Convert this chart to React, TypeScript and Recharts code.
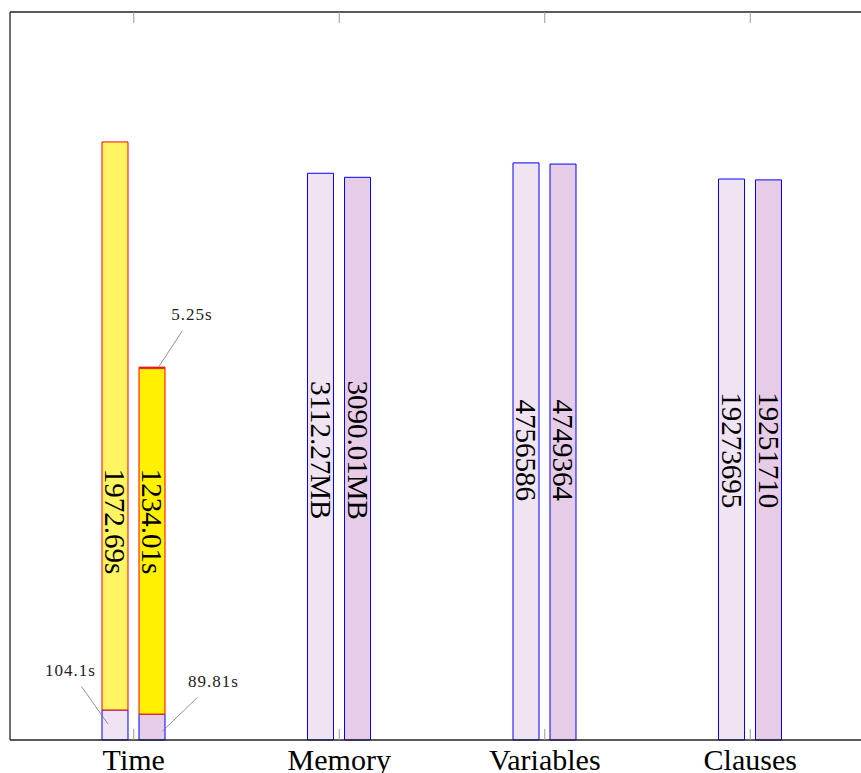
import React from "react";
import { BarChart, Bar, XAxis, YAxis, LabelList } from "recharts";

const categories = ["Time", "Memory", "Variables", "Clauses"];

// bar heights in plot units (the Time scale, seconds)
const runABase = [104.1, 1968, 2004, 1948];
const runATime = [1972.69, 0, 0, 0];
const runBBase = [89.81, 1954, 2000, 1945];
const runBTime = [1200, 0, 0, 0];
const runBExtra = [5.25, 0, 0, 0];

const labelsA = ["1972.69s", "3112.27MB", "4756586", "19273695"];
const labelsB = ["1234.01s", "3090.01MB", "4749364", "19251710"];
const pinABase = "104.1s";
const pinBBase = "89.81s";
const pinBExtra = "5.25s";

const Y_MAX = 2528;

const data = categories.map((name, i) => ({
  name,
  aBase: runABase[i],
  aTime: runATime[i] || null,
  bBase: runBBase[i],
  bTime: runBTime[i] || null,
  bExtra: runBExtra[i] || null,
}));

const PLOT_H = 728;
const SERIF = "'Liberation Serif', 'Times New Roman', serif";
const FRAME = { stroke: "#222", strokeWidth: 1.3 };

const BottomTick = (props: any) => {
  const { x, y, payload } = props;
  return (
    <g>
      <line x1={x} x2={x} y1={y} y2={y - 11} stroke="#999" strokeWidth={1} />
      <text x={x} y={y + 30} textAnchor="middle" fontFamily={SERIF} fontSize={30} fill="#000">
        {payload.value}
      </text>
    </g>
  );
};

const TopTick = (props: any) => {
  const { x, y } = props;
  return <line x1={x} x2={x} y1={y} y2={y + 11} stroke="#999" strokeWidth={1} />;
};

// vertical value labels, placed at a fixed share of the plot height
const makeValueLabel = (labels: string[]) => (props: any) => {
  const { x, y, width, height, index } = props;
  const bottom = y + height;
  const cx = x + width / 2;
  const frac = index === 0 ? 0.3 : 0.398;
  const cy = bottom - frac * PLOT_H;
  return (
    <text
      key={`v-${index}`}
      x={cx}
      y={cy}
      transform={`rotate(90, ${cx}, ${cy})`}
      textAnchor="middle"
      dominantBaseline="central"
      fontFamily={SERIF}
      fontSize={29}
      fill="#000"
    >
      {labels[index]}
    </text>
  );
};

// small pin annotation: line from segment to text
const makePin = (text: string, from: number[], to: number[], at: number[]) => (props: any) => {
  const { x, y, width, height, index } = props;
  if (index !== 0) return null;
  const cx = x + width / 2;
  const cy = y + height / 2;
  return (
    <g>
      <line
        x1={cx + from[0]}
        y1={cy + from[1]}
        x2={cx + to[0]}
        y2={cy + to[1]}
        stroke="#777"
        strokeWidth={0.8}
      />
      <text
        x={cx + at[0]}
        y={cy + at[1]}
        textAnchor="middle"
        fontFamily={SERIF}
        fontSize={17}
        letterSpacing={1}
        fill="#222"
      >
        {text}
      </text>
    </g>
  );
};

export default function App() {
  return (
    // clip to the window so the frame can run off the right edge like the original
    <div style={{ position: "absolute", left: 0, top: 0, width: 861, height: 773, overflow: "hidden" }}>
      <div style={{ position: "absolute", left: 8, top: 8 }}>
        <BarChart
          width={870}
          height={765}
          data={data}
          margin={{ top: 3, right: 4, bottom: 3, left: 1 }}
          barSize={26}
          barGap={11}
        >
          <XAxis
            dataKey="name"
            height={30}
            padding={{ left: 21, right: 21 }}
            axisLine={FRAME}
            tickLine={false}
            tickSize={0}
            tickMargin={0}
            tick={<BottomTick />}
            interval={0}
          />
          <XAxis
            xAxisId="top"
            orientation="top"
            dataKey="name"
            height={1}
            padding={{ left: 21, right: 21 }}
            axisLine={FRAME}
            tickLine={false}
            tickSize={0}
            tickMargin={0}
            tick={<TopTick />}
            interval={0}
          />
          <YAxis width={1} domain={[0, Y_MAX]} tick={false} tickLine={false} axisLine={FRAME} />
          <Bar dataKey="aBase" stackId="a" fill="#f0e4f2" stroke="#0000ff" strokeWidth={1} isAnimationActive={false}>
            <LabelList dataKey="aBase" content={makeValueLabel(labelsA)} />
            <LabelList dataKey="aBase" content={makePin(pinABase, [-7, -1], [-33.5, -38.5], [-44.5, -49])} />
          </Bar>
          <Bar dataKey="aTime" stackId="a" fill="#fff563" stroke="#ff0000" strokeWidth={1} isAnimationActive={false} />
          <Bar dataKey="bBase" stackId="b" fill="#e6cce6" stroke="#0000ff" strokeWidth={1} isAnimationActive={false}>
            <LabelList dataKey="bBase" content={makeValueLabel(labelsB)} />
            <LabelList dataKey="bBase" content={makePin(pinBBase, [10.5, 4], [45.5, -29.7], [61.5, -39.7])} />
          </Bar>
          <Bar dataKey="bTime" stackId="b" fill="#fff100" stroke="#ff0000" strokeWidth={1} isAnimationActive={false} />
          <Bar dataKey="bExtra" stackId="b" fill="#cc0000" stroke="#ee3030" strokeWidth={1} isAnimationActive={false}>
            <LabelList dataKey="bExtra" content={makePin(pinBExtra, [7, -1.5], [30.5, -37.2], [40, -47.5])} />
          </Bar>
        </BarChart>
      </div>
    </div>
  );
}
